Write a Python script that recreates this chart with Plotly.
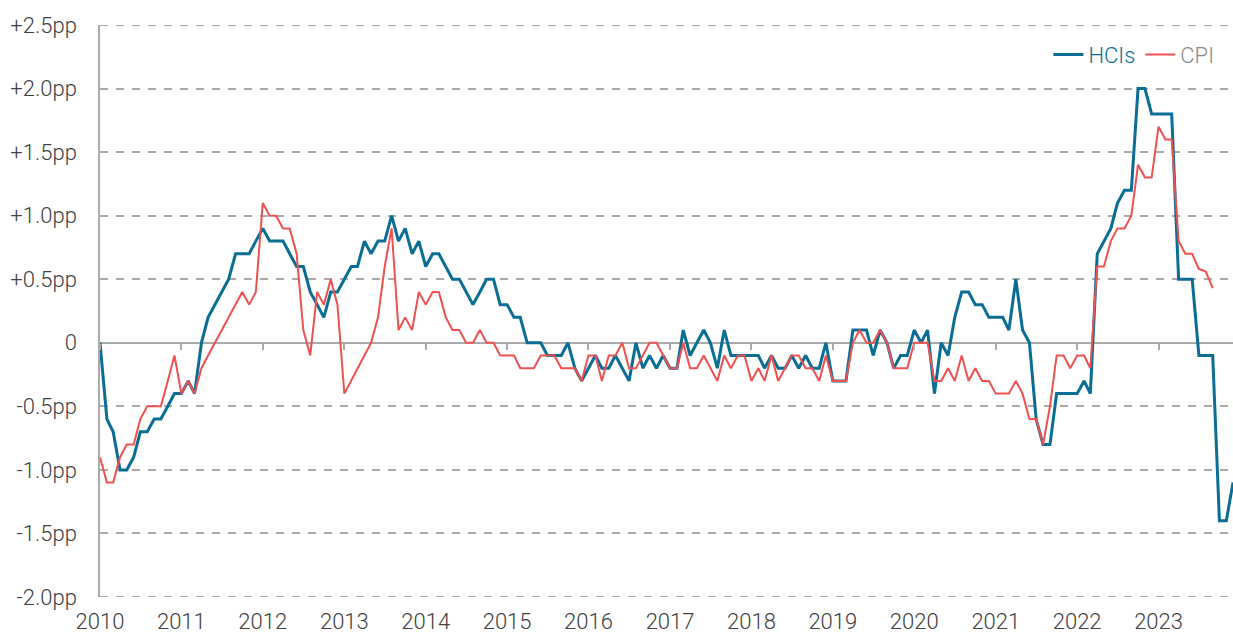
import pandas as pd
import plotly.graph_objects as go

# ---- data (monthly, Jan 2010 onwards) ----
hcis_values = [
    0.0, -0.6, -0.7, -1.0, -1.0, -0.9, -0.7, -0.7, -0.6, -0.6, -0.5, -0.4,   # 2010
    -0.4, -0.3, -0.4, 0.0, 0.2, 0.3, 0.4, 0.5, 0.7, 0.7, 0.7, 0.8,           # 2011
    0.9, 0.8, 0.8, 0.8, 0.7, 0.6, 0.6, 0.4, 0.3, 0.2, 0.4, 0.4,              # 2012
    0.5, 0.6, 0.6, 0.8, 0.7, 0.8, 0.8, 1.0, 0.8, 0.9, 0.7, 0.8,              # 2013
    0.6, 0.7, 0.7, 0.6, 0.5, 0.5, 0.4, 0.3, 0.4, 0.5, 0.5, 0.3,              # 2014
    0.3, 0.2, 0.2, 0.0, 0.0, 0.0, -0.1, -0.1, -0.1, 0.0, -0.2, -0.3,         # 2015
    -0.2, -0.1, -0.2, -0.2, -0.1, -0.2, -0.3, 0.0, -0.2, -0.1, -0.2, -0.1,   # 2016
    -0.2, -0.2, 0.1, -0.1, 0.0, 0.1, 0.0, -0.2, 0.1, -0.1, -0.1, -0.1,       # 2017
    -0.1, -0.1, -0.2, -0.1, -0.2, -0.2, -0.1, -0.2, -0.1, -0.2, -0.2, 0.0,   # 2018
    -0.3, -0.3, -0.3, 0.1, 0.1, 0.1, -0.1, 0.1, 0.0, -0.2, -0.1, -0.1,       # 2019
    0.1, 0.0, 0.1, -0.4, 0.0, -0.1, 0.2, 0.4, 0.4, 0.3, 0.3, 0.2,            # 2020
    0.2, 0.2, 0.1, 0.5, 0.1, 0.0, -0.6, -0.8, -0.8, -0.4, -0.4, -0.4,        # 2021
    -0.4, -0.3, -0.4, 0.7, 0.8, 0.9, 1.1, 1.2, 1.2, 2.0, 2.0, 1.8,           # 2022
    1.8, 1.8, 1.8, 0.5, 0.5, 0.5, -0.1, -0.1, -0.1, -1.4, -1.4, -1.1,        # 2023
]
cpi_values = [
    -0.9, -1.1, -1.1, -0.9, -0.8, -0.8, -0.6, -0.5, -0.5, -0.5, -0.3, -0.1,  # 2010
    -0.4, -0.3, -0.4, -0.2, -0.1, 0.0, 0.1, 0.2, 0.3, 0.4, 0.3, 0.4,         # 2011
    1.1, 1.0, 1.0, 0.9, 0.9, 0.7, 0.1, -0.1, 0.4, 0.3, 0.5, 0.3,             # 2012
    -0.4, -0.3, -0.2, -0.1, 0.0, 0.2, 0.6, 0.9, 0.1, 0.2, 0.1, 0.4,          # 2013
    0.3, 0.4, 0.4, 0.2, 0.1, 0.1, 0.0, 0.0, 0.1, 0.0, 0.0, -0.1,             # 2014
    -0.1, -0.1, -0.2, -0.2, -0.2, -0.1, -0.1, -0.1, -0.2, -0.2, -0.2, -0.3,  # 2015
    -0.1, -0.1, -0.3, -0.1, -0.1, 0.0, -0.2, -0.2, -0.1, 0.0, 0.0, -0.1,     # 2016
    -0.2, -0.2, 0.0, -0.2, -0.2, -0.1, -0.2, -0.3, -0.1, -0.2, -0.1, -0.1,   # 2017
    -0.3, -0.2, -0.3, -0.1, -0.3, -0.2, -0.1, -0.1, -0.2, -0.2, -0.3, -0.1,  # 2018
    -0.3, -0.3, -0.3, 0.0, 0.1, 0.0, 0.0, 0.1, 0.0, -0.2, -0.2, -0.2,        # 2019
    0.0, 0.0, 0.0, -0.3, -0.3, -0.2, -0.3, -0.1, -0.3, -0.2, -0.3, -0.3,     # 2020
    -0.4, -0.4, -0.4, -0.3, -0.4, -0.6, -0.6, -0.8, -0.5, -0.1, -0.1, -0.2,  # 2021
    -0.1, -0.1, -0.2, 0.6, 0.6, 0.8, 0.9, 0.9, 1.0, 1.4, 1.3, 1.3,           # 2022
    1.7, 1.6, 1.6, 0.8, 0.7, 0.7, 0.58, 0.56, 0.43,                          # 2023
]
months = pd.date_range("2010-01-01", periods=len(hcis_values), freq="MS")
cpi_months = months[: len(cpi_values)]

y_tick_vals = [2.5, 2.0, 1.5, 1.0, 0.5, 0.0, -0.5, -1.0, -1.5, -2.0]
y_tick_text = ["+2.5pp", "+2.0pp", "+1.5pp", "+1.0pp", "+0.5pp", "0",
               "-0.5pp", "-1.0pp", "-1.5pp", "-2.0pp"]

BLUE = "#0a6e94"
RED = "#ef5050"
GRID = "#aaaaaa"
TEXT = "#404040"
FONT = "Roboto"
FS = 22

fig = go.Figure()
fig.add_trace(go.Scatter(
    x=months, y=hcis_values, mode="lines",
    name=f"<span style='color:{BLUE}'>HCIs</span>",
    line=dict(color=BLUE, width=3),
))
fig.add_trace(go.Scatter(
    x=cpi_months, y=cpi_values, mode="lines",
    name="<span style='color:#8a8a8a'>CPI</span>",
    line=dict(color=RED, width=2),
))
# invisible trace to carry the tick-only axis on the zero line
fig.add_trace(go.Scatter(
    x=months, y=[None] * len(months), xaxis="x2", mode="lines",
    showlegend=False, hoverinfo="skip",
))

# dashed gridlines at the two range edges (Plotly drops them at the borders)
for edge in (min(y_tick_vals), max(y_tick_vals)):
    fig.add_shape(
        type="line", xref="paper", x0=0, x1=1, yref="y", y0=edge, y1=edge,
        line=dict(color=GRID, width=2, dash="8px,8px"), layer="below",
    )

fig.update_layout(
    width=1233, height=637,
    margin=dict(l=100, r=0, t=25, b=40),
    paper_bgcolor="white", plot_bgcolor="white",
    font=dict(family=FONT, size=FS, color=TEXT, weight=300),
    showlegend=True,
    legend=dict(
        orientation="h", x=0.988, xanchor="right", y=0.948, yanchor="middle",
        font=dict(size=FS, family=FONT, weight=300), itemwidth=30,
        bgcolor="rgba(0,0,0,0)",
    ),
    xaxis=dict(
        range=[months[0], months[-1]],
        tickformat="%Y", dtick="M12", tick0="2010-01-01",
        showgrid=False, zeroline=False, showline=False, ticks="",
        ticklabelstandoff=9,
        tickfont=dict(size=FS, family=FONT, color=TEXT, weight=300),
    ),
    xaxis2=dict(
        matches="x", overlaying="x", anchor="free", position=2.0 / 4.5,
        side="bottom", showticklabels=False, ticks="outside", ticklen=6,
        tickwidth=1.5, tickcolor=GRID, dtick="M12", tick0="2010-01-01",
        showgrid=False, zeroline=False, showline=False,
    ),
    yaxis=dict(
        range=[min(y_tick_vals), max(y_tick_vals)],
        tickvals=y_tick_vals, ticktext=y_tick_text,
        showgrid=True, gridcolor=GRID, gridwidth=2, griddash="8px,8px",
        zeroline=True, zerolinecolor=GRID, zerolinewidth=1.5,
        showline=True, linecolor=GRID, linewidth=1.5,
        ticks="", ticklabelstandoff=17,
        tickfont=dict(size=FS, family=FONT, color=TEXT, weight=300),
    ),
)

fig.write_html(
    "out.html",
    config={"displayModeBar": False},
    post_script="document.body.style.margin='0';document.body.style.overflow='hidden';",
)
